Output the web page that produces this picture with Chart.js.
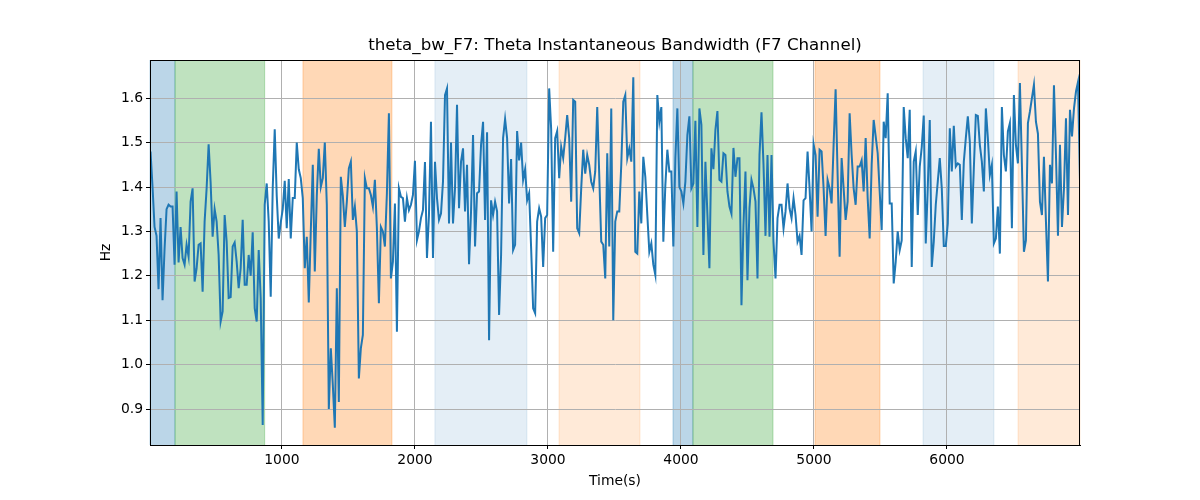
<!DOCTYPE html>
<html>
<head>
<meta charset="utf-8">
<script src="https://cdn.jsdelivr.net/npm/chart.js@4/dist/chart.umd.min.js"></script>
<style>
    html, body { margin: 0; padding: 0; background: #fff; }
    #wrap { width: 1200px; height: 500px; }
</style>
</head>
<body>
<div id="wrap"><canvas id="chart" width="1200" height="500"></canvas></div>
<script>
const bandwidth = [
    1.48, 1.40, 1.31, 1.29, 1.17, 1.33, 1.145, 1.26, 1.35, 1.36, 1.356, 1.356, 1.225, 1.39, 1.23, 1.31,
    1.24, 1.225, 1.27, 1.243, 1.367, 1.397, 1.187, 1.217, 1.27, 1.273, 1.164, 1.322, 1.397, 1.496, 1.41,
    1.288, 1.35, 1.322, 1.247, 1.097, 1.12, 1.337, 1.277, 1.15, 1.152, 1.266, 1.275, 1.232, 1.172, 1.217,
    1.326, 1.18, 1.18, 1.247, 1.2, 1.298, 1.127, 1.097, 1.258, 1.149, 0.864, 1.36, 1.408, 1.322, 1.153,
    1.397, 1.53, 1.38, 1.284, 1.32, 1.35, 1.414, 1.307, 1.418, 1.284, 1.375, 1.375, 1.5, 1.44,
    // ~1000 - 2000
    1.42, 1.375, 1.217, 1.288, 1.14, 1.3, 1.45, 1.21, 1.38, 1.486, 1.4, 1.42, 1.5, 1.36, 0.9, 1.037,
    0.954, 0.858, 1.172, 0.916, 1.423, 1.38, 1.31, 1.367, 1.442, 1.457, 1.326, 1.356, 1.3, 0.969, 1.037,
    1.067, 1.42, 1.397, 1.397, 1.382, 1.356, 1.416, 1.307, 1.138, 1.31, 1.3, 1.266, 1.386, 1.566, 1.194,
    1.232, 1.363, 1.074, 1.397, 1.378, 1.375, 1.322, 1.375, 1.348, 1.36, 1.382, 1.459, 1.28, 1.3, 1.33,
    1.348, 1.456, 1.24, 1.337, 1.547, 1.24, 1.457, 1.375, 1.326, 1.34, 1.412, 1.607, 1.622,
    // ~2000 - 3100
    1.318, 1.5, 1.318, 1.397, 1.585, 1.352, 1.457, 1.487, 1.345, 1.45, 1.226, 1.345, 1.517, 1.266, 1.386,
    1.39, 1.495, 1.547, 1.326, 1.523, 1.055, 1.37, 1.337, 1.367, 1.345, 1.112, 1.247, 1.51, 1.553, 1.51,
    1.363, 1.463, 1.258, 1.27, 1.526, 1.46, 1.5, 1.416, 1.44, 1.37, 1.386, 1.262, 1.127, 1.116, 1.322,
    1.352, 1.333, 1.22, 1.33, 1.337, 1.622, 1.53, 1.254, 1.51, 1.526, 1.42, 1.49, 1.465, 1.51, 1.562,
    1.51, 1.367, 1.596, 1.592, 1.307, 1.296, 1.397, 1.484, 1.43, 1.472, 1.45, 1.412, 1.397, 1.435, 1.58,
    // ~3100 - 4200
    1.427, 1.277, 1.27, 1.194, 1.476, 1.266, 1.577, 1.1, 1.322, 1.345, 1.345, 1.45, 1.592, 1.607, 1.465,
    1.487, 1.457, 1.647, 1.254, 1.25, 1.39, 1.318, 1.468, 1.423, 1.337, 1.254, 1.273, 1.225, 1.202, 1.607,
    1.547, 1.58, 1.277, 1.404, 1.484, 1.435, 1.435, 1.266, 1.465, 1.577, 1.4, 1.39, 1.363, 1.412, 1.517,
    1.559, 1.397, 1.408, 1.549, 1.31, 1.577, 1.54, 1.247, 1.457, 1.337, 1.217, 1.487, 1.44, 1.529, 1.571,
    1.416, 1.412, 1.476, 1.472, 1.39, 1.356, 1.34, 1.488, 1.423, 1.465, 1.465, 1.134, 1.314, 1.435, 1.19,
    // ~4300 - 5400
    1.352, 1.416, 1.397, 1.367, 1.194, 1.472, 1.568, 1.45, 1.29, 1.472, 1.288, 1.472, 1.277, 1.194, 1.33,
    1.36, 1.36, 1.307, 1.345, 1.408, 1.352, 1.33, 1.375, 1.337, 1.277, 1.29, 1.247, 1.37, 1.375, 1.48,
    1.397, 1.3, 1.496, 1.472, 1.333, 1.484, 1.48, 1.397, 1.29, 1.416, 1.397, 1.363, 1.495, 1.62, 1.427,
    1.243, 1.465, 1.397, 1.326, 1.367, 1.566, 1.472, 1.397, 1.36, 1.446, 1.446, 1.46, 1.39, 1.51, 1.375,
    1.284, 1.45, 1.551, 1.514, 1.476, 1.39, 1.303, 1.547, 1.51, 1.611, 1.363, 1.363, 1.183, 1.232, 1.3,
    // ~5500 - 7000
    1.258, 1.28, 1.58, 1.51, 1.465, 1.574, 1.22, 1.457, 1.48, 1.337, 1.446, 1.49, 1.561, 1.273, 1.397,
    1.551, 1.22, 1.277, 1.36, 1.412, 1.465, 1.397, 1.267, 1.267, 1.318, 1.532, 1.435, 1.538, 1.446, 1.453,
    1.45, 1.326, 1.457, 1.51, 1.559, 1.502, 1.318, 1.442, 1.562, 1.56, 1.495, 1.457, 1.39, 1.577, 1.51,
    1.427, 1.45, 1.273, 1.284, 1.356, 1.25, 1.58, 1.472, 1.435, 1.525, 1.544, 1.307, 1.607, 1.495, 1.453,
    1.634, 1.45, 1.254, 1.28, 1.544, 1.57, 1.6, 1.63, 1.547, 1.52, 1.367, 1.337, 1.468, 1.322, 1.187,
    1.45, 1.408, 1.629, 1.472, 1.29, 1.495, 1.31, 1.397, 1.555, 1.337, 1.574, 1.514, 1.577, 1.615, 1.636,
    1.412
];
const tStart = 12;
const tEnd = 7000;

// Shaded intervals (seconds) and which style each one uses
const spanStarts = [8, 196, 1158, 2150, 3083, 3940, 4090, 5008, 5820, 6534];
const spanEnds   = [196, 870, 1827, 2842, 3692, 4090, 4692, 5496, 6353, 7000];
const spanKinds  = ['blue', 'green', 'orange', 'lightblue', 'lightorange',
                    'blue', 'green', 'orange', 'lightblue', 'lightorange'];

const xTicks = [1000, 2000, 3000, 4000, 5000, 6000];
const yTicks = [0.9, 1.0, 1.1, 1.2, 1.3, 1.4, 1.5, 1.6];

const spanColors = {
    blue: 'rgba(31,119,180,0.3)',
    green: 'rgba(44,160,44,0.3)',
    orange: 'rgba(255,127,14,0.3)',
    lightblue: 'rgba(31,119,180,0.12)',
    lightorange: 'rgba(255,127,14,0.16)'
};

const dt = (tEnd - tStart) / (bandwidth.length - 1);
const points = bandwidth.map((v, i) => ({ x: tStart + i * dt, y: v }));

const FONT = '"DejaVu Sans", sans-serif';

// Background shading, drawn before the grid so grid lines sit on top
const spanPlugin = {
    id: 'spans',
    beforeDraw(chart) {
        const { ctx, chartArea: a, scales: { x } } = chart;
        ctx.save();
        ctx.fillStyle = '#fff';
        ctx.fillRect(0, 0, chart.width, chart.height);
        spanStarts.forEach((s, i) => {
            const x0 = Math.max(x.getPixelForValue(s), a.left);
            const x1 = Math.min(x.getPixelForValue(spanEnds[i]), a.right);
            ctx.fillStyle = spanColors[spanKinds[i]];
            ctx.fillRect(x0, a.top, x1 - x0, a.bottom - a.top);
            ctx.strokeStyle = spanColors[spanKinds[i]];
            ctx.lineWidth = 1;
            ctx.beginPath();
            ctx.moveTo(x0, a.top); ctx.lineTo(x0, a.bottom);
            ctx.moveTo(x1, a.top); ctx.lineTo(x1, a.bottom);
            ctx.stroke();
        });
        ctx.restore();
    },
    afterDraw(chart) {
        const { ctx, chartArea: a } = chart;
        ctx.save();
        // frame
        ctx.strokeStyle = '#000';
        ctx.lineWidth = 1;
        ctx.strokeRect(a.left + 0.5, a.top + 0.5, a.right - a.left - 1, a.bottom - a.top);
        // texts
        ctx.fillStyle = '#000';
        ctx.textAlign = 'center';
        ctx.textBaseline = 'middle';
        ctx.font = '16.67px ' + FONT;
        ctx.fillText('theta_bw_F7: Theta Instantaneous Bandwidth (F7 Channel)', (a.left + a.right) / 2, 46);
        ctx.font = '13.89px ' + FONT;
        ctx.fillText('Time(s)', (a.left + a.right) / 2, 481);
        ctx.translate(106, (a.top + a.bottom) / 2);
        ctx.rotate(-Math.PI / 2);
        ctx.fillText('Hz', 0, 0);
        ctx.restore();
    }
};

new Chart(document.getElementById('chart'), {
    type: 'line',
    data: {
        datasets: [{
            data: points,
            borderColor: '#1f77b4',
            borderWidth: 2,
            pointRadius: 0,
            tension: 0,
            fill: false
        }]
    },
    options: {
        responsive: false,
        animation: false,
        devicePixelRatio: 1,
        layout: { padding: { left: 0, right: 120, top: 60, bottom: 0 } },
        plugins: {
            legend: { display: false },
            tooltip: { enabled: false },
            title: { display: false }
        },
        scales: {
            x: {
                type: 'linear',
                min: 8,
                max: 7000,
                afterFit: s => { s.height = 55; },
                afterBuildTicks: s => { s.ticks = xTicks.map(v => ({ value: v })); },
                ticks: {
                    color: '#000',
                    font: { family: FONT, size: 13.89 },
                    padding: 3,
                    maxRotation: 0,
                    callback: v => String(v)
                },
                grid: { color: '#b0b0b0', lineWidth: 1, tickColor: '#000', tickLength: 4, tickWidth: 1 },
                border: { color: '#000', width: 1 }
            },
            y: {
                min: 0.819,
                max: 1.686,
                afterFit: s => { s.width = 150; },
                afterBuildTicks: s => { s.ticks = yTicks.map(v => ({ value: v })); },
                ticks: {
                    color: '#000',
                    font: { family: FONT, size: 13.89 },
                    padding: 3,
                    callback: v => v.toFixed(1)
                },
                grid: { color: '#b0b0b0', lineWidth: 1, tickColor: '#000', tickLength: 4, tickWidth: 1 },
                border: { color: '#000', width: 1 }
            }
        }
    },
    plugins: [spanPlugin]
});
</script>
</body>
</html>
